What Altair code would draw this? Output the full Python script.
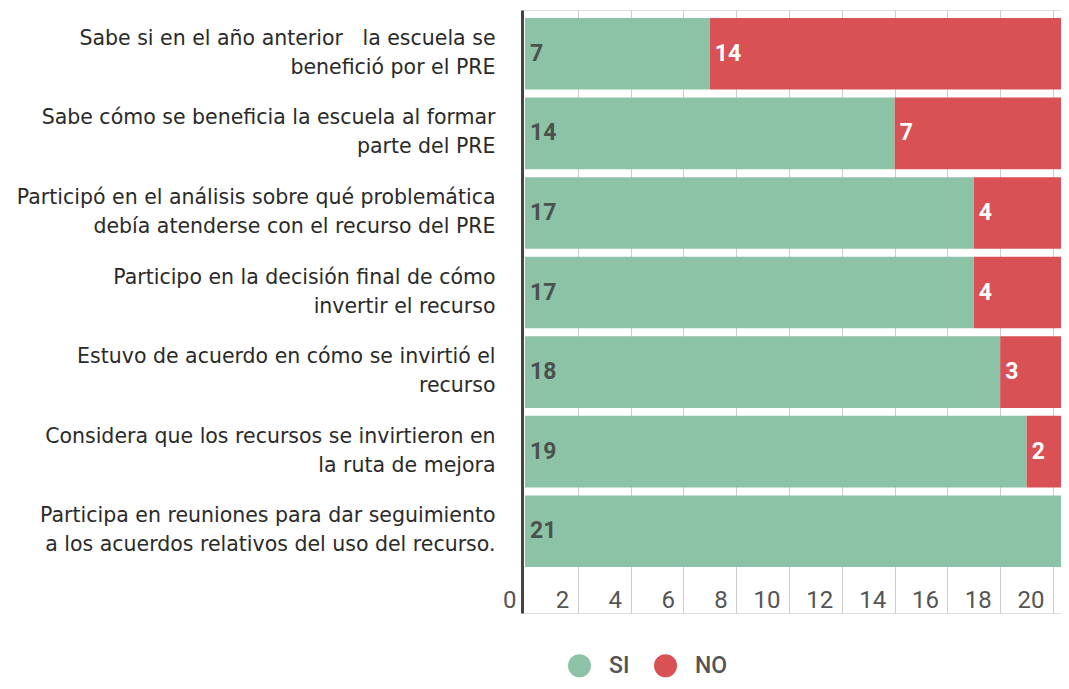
import altair as alt
import pandas as pd

# ---- data ----
items = [
    "Sabe si en el año anterior\u00a0\u00a0 la escuela se|benefició por el PRE",
    "Sabe cómo se beneficia la escuela al formar|parte del PRE",
    "Participó en el análisis sobre qué problemática|debía atenderse con el recurso del PRE",
    "Participo en la decisión final de cómo|invertir el recurso",
    "Estuvo de acuerdo en cómo se invirtió el|recurso",
    "Considera que los recursos se invirtieron en|la ruta de mejora",
    "Participa en reuniones para dar seguimiento|a los acuerdos relativos del uso del recurso.",
]
si_values = [7, 14, 17, 17, 18, 19, 21]
no_values = [14, 7, 4, 4, 3, 2, 0]
responses = ["SI", "NO"]
colors = ["#8CC3A6", "#DA5155"]
axis_ticks = [0, 2, 4, 6, 8, 10, 12, 14, 16, 18, 20]
grid_ticks = [2, 4, 6, 8, 10, 12, 14, 16, 18, 20]
x_domain = [-0.114, 20.3]

rows = []
for it, s, n in zip(items, si_values, no_values):
    rows.append({"item": it, "resp": "SI", "value": s, "order": 0})
    rows.append({"item": it, "resp": "NO", "value": n, "order": 1})
df = pd.DataFrame(rows)

y_scale = alt.Scale(paddingInner=0.1, paddingOuter=0.339, align=0.148)

y_axis = alt.Axis(
    orient="left",
    ticks=False,
    domain=True,
    domainColor="#444444",
    domainWidth=3,
    labelExpr="split(datum.label, '|')",
    labelFont="DejaVu Sans",
    labelFontSize=20.5,
    labelLineHeight=29,
    labelColor="#2a2a2a",
    labelPadding=27,
    labelOffset=-15,
    labelLimit=700,
    labelAlign="right",
    labelBaseline="middle",
    zindex=1,
)
y_enc = alt.Y("item:N", sort=items, scale=y_scale, title=None, axis=y_axis)

base = alt.Chart(df).transform_stack(
    stack="value",
    groupby=["item"],
    as_=["x0", "x1"],
    sort=[alt.SortField("order", order="ascending")],
)

bars = base.mark_bar(clip=True, strokeWidth=0).encode(
    y=y_enc,
    x=alt.X(
        "x0:Q",
        scale=alt.Scale(domain=x_domain, nice=False, zero=False),
        title=None,
        axis=alt.Axis(
            orient="top",
            values=grid_ticks,
            labels=False,
            ticks=False,
            domain=False,
            grid=True,
            gridColor="#cccccc",
            gridWidth=1,
        ),
    ),
    x2="x1:Q",
    color=alt.Color(
        "resp:N",
        scale=alt.Scale(domain=responses, range=colors),
        legend=alt.Legend(
            title=None,
            orient="none",
            direction="horizontal",
            legendX=46,
            legendY=644,
            padding=0,
            symbolType="circle",
            symbolSize=529,
            symbolStrokeWidth=0,
            symbolOpacity=1,
            labelFont="Roboto",
            labelFontSize=23,
            labelFontWeight=500,
            labelColor="#555555",
            labelOffset=18,
            columnPadding=24,
        ),
    ),
)

labels = base.transform_filter("datum.value > 0").mark_text(
    align="left", baseline="middle", dx=5, font="Roboto", fontSize=23, fontWeight="bold"
).encode(
    y=y_enc,
    x=alt.X("x0:Q", scale=alt.Scale(domain=x_domain, nice=False, zero=False), axis=None),
    text=alt.Text("value:Q"),
    color=alt.condition(alt.datum.resp == "SI", alt.value("#4b524e"), alt.value("#ffffff")),
)

axis_layer = alt.Chart(pd.DataFrame({"t": axis_ticks})).mark_point(opacity=0).encode(
    x=alt.X(
        "t:Q",
        scale=alt.Scale(domain=x_domain, nice=False, zero=False),
        title=None,
        axis=alt.Axis(
            orient="bottom",
            values=axis_ticks,
            domain=False,
            grid=False,
            tickSize=0,
            tickOpacity=0,
            labelAlign="right",
            labelBaseline="top",
            labelOffset=-9,
            labelPadding=-25,
            labelFont="Roboto",
            labelFontSize=24,
            labelColor="#555555",
            labelFlush=False,
            labelOverlap=False,
        ),
    )
)

chart = (
    alt.layer(bars, labels, axis_layer)
    .resolve_scale(x="independent")
    .properties(
        width=539,
        height=603,
        autosize=alt.AutoSizeParams(type="none"),
        padding={"left": 514, "top": 2, "right": 0, "bottom": 68},
    )
    .configure_view(stroke="transparent")
    .configure(background="white")
)

chart.save("out.html", embed_options={"renderer": "svg", "actions": False})
